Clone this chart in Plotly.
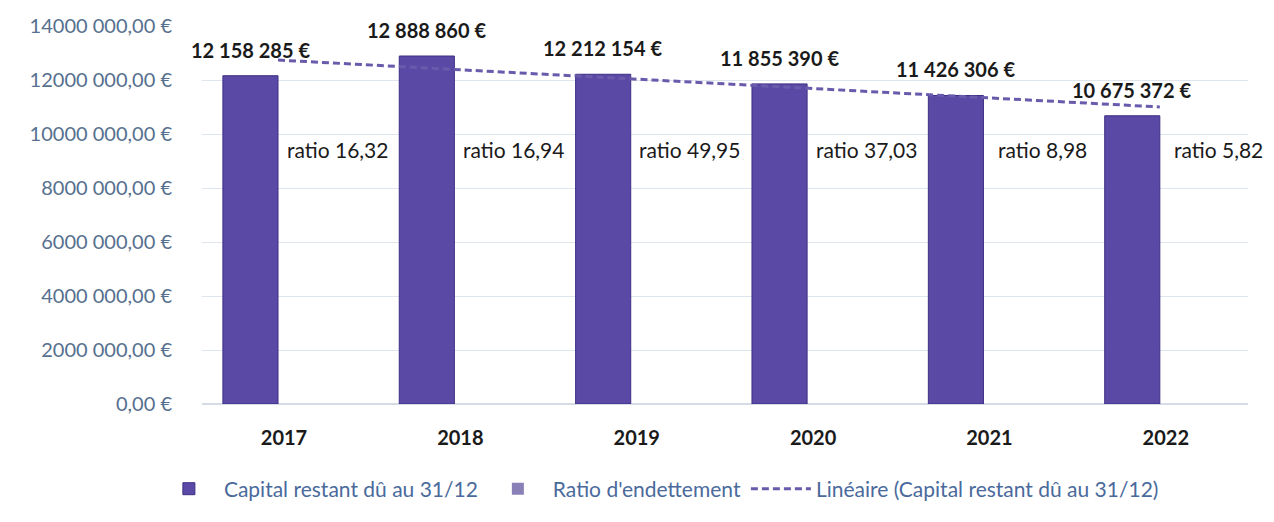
import plotly.graph_objects as go
import numpy as np

years = ["2017", "2018", "2019", "2020", "2021", "2022"]
capital = [12158285, 12888860, 12212154, 11855390, 11426306, 10675372]
capital_labels = ["12 158 285 €", "12 888 860 €", "12 212 154 €", "11 855 390 €", "11 426 306 €", "10 675 372 €"]
ratio = [16.32, 16.94, 49.95, 37.03, 8.98, 5.82]
ratio_labels = ["ratio 16,32", "ratio 16,94", "ratio 49,95", "ratio 37,03", "ratio 8,98", "ratio 5,82"]
y_ticks = [0, 2000000, 4000000, 6000000, 8000000, 10000000, 12000000, 14000000]
y_ticktext = ["0,00 €", "2000 000,00 €", "4000 000,00 €", "6000 000,00 €", "8000 000,00 €",
              "10000 000,00 €", "12000 000,00 €", "14000 000,00 €"]

# Linear trend line (least squares fit on capital)
xi = np.arange(1, len(capital) + 1)
slope, intercept = np.polyfit(xi, capital, 1)
trend = slope * xi + intercept

FONT = "Lato"
fig = go.Figure()
fig.add_trace(go.Bar(
    x=years, y=capital, name="Capital restant dû au 31/12",
    marker=dict(color="#5b49a6", line=dict(color="#3d2f85", width=1)),
))
fig.add_trace(go.Bar(
    x=years, y=ratio, name="Ratio d'endettement",
    marker=dict(color="#8a80b8", line=dict(width=0)),
))
fig.add_trace(go.Scatter(
    x=years, y=list(trend), mode="lines", name="Linéaire (Capital restant dû au 31/12)",
    line=dict(color="#6a5aac", width=3, dash="7px,4px"),
))

annotations = []
# category axis: annotation x positions use the category index
for i, (v, lab) in enumerate(zip(capital, capital_labels)):
    annotations.append(dict(x=i, y=v, xref="x", yref="y", text=f"<b>{lab}</b>", showarrow=False,
                            xshift=-28, yshift=26, yanchor="middle",
                            font=dict(family=FONT, size=20, color="#1a1a1a")))
for i, lab in enumerate(ratio_labels):
    annotations.append(dict(x=i, y=0.672, xref="x", yref="paper", text=lab, showarrow=False,
                            xshift=59, yanchor="middle",
                            font=dict(family=FONT, size=21, color="#1a1a1a")))

fig.update_layout(
    width=1266, height=514, autosize=False,
    margin=dict(l=194, r=26, t=18, b=118, autoexpand=False),
    paper_bgcolor="#ffffff", plot_bgcolor="#ffffff",
    barmode="group", bargap=0.375, bargroupgap=0,
    font=dict(family=FONT, size=16, color="#1a1a1a"),
    showlegend=True,
    legend=dict(orientation="h", x=-0.046, xanchor="left", itemwidth=60,
                y=-0.225, yanchor="middle", font=dict(family=FONT, size=21, color="#4a6a9c")),
    annotations=annotations,
)
fig.update_xaxes(
    type="category", range=[-0.431, 5.5], showgrid=False, zeroline=False,
    showline=False, ticks="", ticklabelstandoff=20, ticklabelshift=6,
    tickfont=dict(family=FONT, size=20, color="#1a1a1a", weight="bold"),
)
fig.update_yaxes(
    range=[0, 14000000], tickvals=y_ticks, ticktext=y_ticktext,
    showgrid=True, gridcolor="#dfe5ec", gridwidth=1, zeroline=True, zerolinecolor="#d5dce5",
    showline=False, ticks="", ticklabelstandoff=29,
    tickfont=dict(family=FONT, size=20, color="#56708f"),
)
fig.write_html("out.html")
